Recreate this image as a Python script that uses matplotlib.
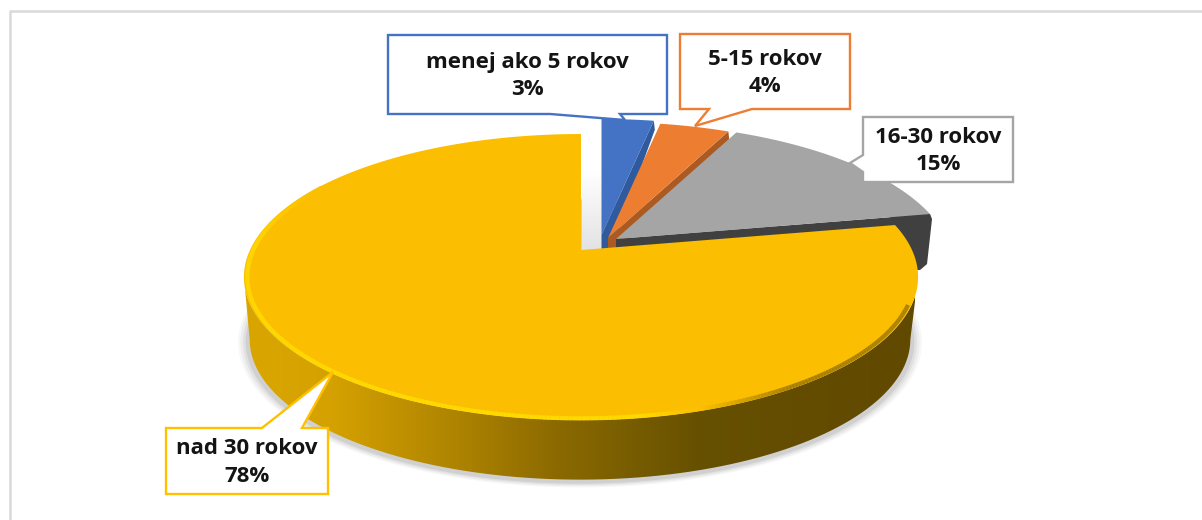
import numpy as np
import matplotlib
matplotlib.use("Agg")
import matplotlib.pyplot as plt
from matplotlib.collections import LineCollection
from matplotlib.colors import LinearSegmentedColormap, to_rgb
from matplotlib.path import Path

categories = ["menej ako 5 rokov", "5-15 rokov", "16-30 rokov", "nad 30 rokov"]
values = [3, 4, 15, 78]

colors = ["#4472c4", "#ed7d31", "#a5a5a5", "#fbbe00"]
side_colors = ["#2f5a9e", "#ab5a22", "#404040", "#8a6900"]
box_colors = ["#4472c4", "#ed7d31", "#a5a5a5", "#ffc000"]

# slice tips, the pie is exploded so each one has its own
centers = [(601.5, 235), (608, 238), (616, 239), (581, 250)]

R = 331
S = 137.9
K = 0.189
DEPTH = 63


def project(theta, cx, cy, scale=1.0):
    # theta in degrees, clockwise from the top of the pie, with some perspective
    t = np.radians(theta)
    w = 1 + K * np.cos(t)
    return cx + scale * R * np.sin(t) / w, cy - scale * S * np.cos(t) / w


plt.rcParams["font.family"] = ["Open Sans", "DejaVu Sans"]
fig = plt.figure(figsize=(12.02, 5.2), dpi=100)
ax = fig.add_axes([0, 0, 1, 1])
ax.axis("off")

# chart frame, only top and left are visible
ax.plot([10, 10, 1202], [520, 11, 11], color="#d9d9d9", lw=1.8, zorder=1)

stops = 360 * np.cumsum([0] + values) / sum(values)
cx, cy = centers[3]
lower_cx, lower_cy = cx - 1, cy + DEPTH
all_angles = np.linspace(0, 360, 400)

# soft shadow under the pie
for grow, alpha in zip([1.035, 1.028, 1.02, 1.012], [0.03, 0.04, 0.05, 0.07]):
    sx, sy = project(all_angles, lower_cx, lower_cy + 2, 0.98 * grow)
    ax.fill(sx, sy, color="black", alpha=alpha, lw=0, zorder=2)

# grey shadow in the gap next to the blue slice
fade = np.linspace(0, 1, 50).reshape(-1, 1)
ax.imshow(fade, extent=(582, 602, 250, 170), aspect="auto", zorder=3, vmin=0, vmax=1,
          cmap=LinearSegmentedColormap.from_list("gap", ["#ffffff", "#e3e3e3"]))

# small slices: cut face first, then the top
for i in range(3):
    px, py = centers[i]
    ex, ey = project(stops[i + 1], px, py)
    ax.fill([px, ex, ex + 1, px + 11, px + 11, px], [py, ey, ey + 9, py + 11, py + 14, py + 14],
            color=side_colors[i], lw=0, zorder=4)
    if i == 2:
        # outer side of the grey slice, peeks out behind the yellow one
        ax.fill([ex - 40, ex, ex + 2, ex - 3, ex - 10, ex - 40],
                [ey, ey, ey + 5, ey + 50, ey + 56, ey + 56],
                color=side_colors[i], lw=0, zorder=4)
    t = np.linspace(stops[i], stops[i + 1], 40)
    tx, ty = project(t, px, py)
    ax.fill(np.r_[px, tx], np.r_[py, ty], color=colors[i], lw=0, zorder=5)

# yellow side with the gradient, from widest point to widest point
widest = np.degrees(np.arccos(-K))
t = np.linspace(widest, 360 - widest, 200)
ux, uy = project(t, cx, cy)
lx, ly = project(t[::-1], lower_cx, lower_cy, 0.98)
side_path = Path(np.column_stack([np.r_[ux, lx], np.r_[uy, ly]]))
grad_cmap = LinearSegmentedColormap.from_list(
    "side",
    [(0.0, "#d9a600"), (0.13, "#d5a100"), (0.34, "#a87f00"), (0.47, "#8a6900"),
     (0.68, "#665000"), (1.0, "#614900")],
)
gradient = np.linspace(0, 1, 400).reshape(1, -1)
im = ax.imshow(gradient, extent=(245, 915, 500, 250), aspect="auto", cmap=grad_cmap, zorder=6)
im.set_clip_path(side_path, transform=ax.transData)

# yellow top
t = np.linspace(stops[3], stops[4], 300)
tx, ty = project(t, cx, cy)
ax.fill(np.r_[cx, tx], np.r_[cy, ty], color=colors[3], lw=0, zorder=7)

# bevel along the rim, bright on the left, dark on the right
t = np.linspace(112, 300, 300)
rx, ry = project(t, cx, cy, 0.99)
points = np.column_stack([rx, ry])
segs = np.stack([points[:-1], points[1:]], axis=1)
mid_x = (rx[:-1] + rx[1:]) / 2
mid_t = (t[:-1] + t[1:]) / 2
bright, base, dark = [np.array(to_rgb(c)) for c in ("#ffd900", "#fbbe00", "#a98000")]
seg_colors = []
for x, a in zip(mid_x, mid_t):
    if a > 270:
        seg_colors.append(bright + (base - bright) * (a - 270) / 30)
    elif x < 640:
        seg_colors.append(bright)
    elif x < 700:
        seg_colors.append(bright + (base - bright) * (x - 640) / 60)
    else:
        seg_colors.append(base + (dark - base) * min(1, (x - 700) / 90))
ax.add_collection(LineCollection(segs, colors=seg_colors, linewidths=3, zorder=8))

# data labels with their callouts
boxes = [(388, 667, 35, 114), (680, 850, 34, 109), (863, 1013, 117, 182), (166, 328, 428, 494)]
tails = [
    [(620, 114), (625, 120), (550, 114)],
    [(752, 109), (695, 126), (709, 109)],
    [(863, 172), (850, 163), (863, 155)],
    [(262, 428), (333, 372), (302, 428)],
]
for i in range(4):
    x0, x1, y0, y1 = boxes[i]
    if i == 3:
        outline = [(x0, y0), *tails[i], (x1, y0), (x1, y1), (x0, y1)]
    elif i == 2:
        outline = [(x0, y0), (x1, y0), (x1, y1), (x0, y1), *tails[i]]
    else:
        outline = [(x0, y0), (x1, y0), (x1, y1), *tails[i], (x0, y1)]
    ox, oy = zip(*outline)
    ax.fill(ox, oy, facecolor="white", edgecolor=box_colors[i], lw=1.7, joinstyle="miter", zorder=9)
    ax.text((x0 + x1) / 2, (y0 + y1) / 2 + 1.5, f"{categories[i]}\n{values[i]}%", ha="center", va="center",
            fontsize=16, fontweight="bold", color="#141414", linespacing=1.42, zorder=10)

ax.set_xlim(0, 1202)
ax.set_ylim(520, 0)
fig.savefig("out.png", dpi=100, facecolor="white")
